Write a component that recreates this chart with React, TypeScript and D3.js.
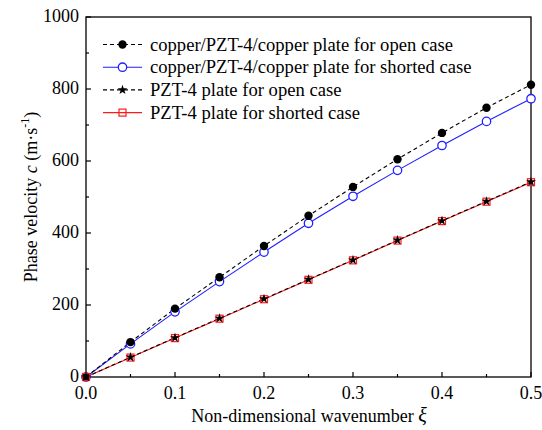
import React, {useEffect, useRef} from 'react';
import * as d3 from 'd3';

const xi = [0, 0.05, 0.1, 0.15, 0.2, 0.25, 0.3, 0.35, 0.4, 0.45, 0.5];
const copperOpen = [0, 97, 190, 277, 364, 448, 528, 605, 678, 748, 812];
const copperShorted = [0, 92, 181, 265, 347, 427, 502, 574, 643, 710, 773];
const pztOpen = [0, 55, 109, 163, 217, 271, 325, 380, 434, 488, 542];
const pztShorted = [0, 54, 108, 162, 216, 270, 324, 379, 433, 487, 541];
const xTicks = [0, 0.1, 0.2, 0.3, 0.4, 0.5];
const yTicks = [0, 200, 400, 600, 800, 1000];

const series = [
  {name: 'copper/PZT-4/copper plate for open case', values: copperOpen, color: '#000', dash: '4,3', marker: 'dot'},
  {name: 'copper/PZT-4/copper plate for shorted case', values: copperShorted, color: '#1f1fff', dash: null, marker: 'circle'},
  {name: 'PZT-4 plate for open case', values: pztOpen, color: '#000', dash: '4,3', marker: 'star'},
  {name: 'PZT-4 plate for shorted case', values: pztShorted, color: '#ff1a1a', dash: null, marker: 'square'},
];

const FONT = "'Liberation Serif', 'Times New Roman', 'DejaVu Serif', serif";

const App = () => {
  const chart = useRef<SVGSVGElement>(null);

  useEffect(() => {
    const svg = d3.select(chart.current);
    svg.selectAll('*').remove();
    const left = 86, right = 531, top = 17, bottom = 377;
    const x = d3.scaleLinear().domain([0, 0.5]).range([left, right]);
    const y = d3.scaleLinear().domain([0, 1000]).range([bottom, top]);

    const txt = (sel: any) => sel.style('font-family', FONT).attr('fill', '#000');

    // frame
    svg.append('rect').attr('x', left).attr('y', top).attr('width', right - left).attr('height', bottom - top)
      .attr('fill', 'none').attr('stroke', '#000').attr('stroke-width', 1.3);

    // ticks pointing inward
    d3.range(0, 0.5001, 0.05).forEach((t, i) => {
      const len = i % 2 === 0 ? 5 : 3;
      svg.append('line').attr('x1', x(t)).attr('x2', x(t)).attr('y1', bottom).attr('y2', bottom - len)
        .attr('stroke', '#000').attr('stroke-width', 1.2);
    });
    d3.range(0, 1001, 100).forEach((t, i) => {
      const len = i % 2 === 0 ? 5 : 3;
      svg.append('line').attr('x1', left).attr('x2', left + len).attr('y1', y(t)).attr('y2', y(t))
        .attr('stroke', '#000').attr('stroke-width', 1.2);
    });
    xTicks.forEach(t => {
      txt(svg.append('text')).attr('x', x(t)).attr('y', 399).attr('text-anchor', 'middle')
        .style('font-size', '18px').text(t.toFixed(1));
    });
    yTicks.forEach(t => {
      txt(svg.append('text')).attr('x', left - 7).attr('y', y(t) + 5).attr('text-anchor', 'end')
        .style('font-size', '18px').text(String(t));
    });

    // axis titles
    const xt = txt(svg.append('text')).attr('x', 309).attr('y', 422).attr('text-anchor', 'middle')
      .style('font-size', '18px');
    xt.append('tspan').text('Non-dimensional wavenumber ');
    xt.append('tspan').style('font-style', 'italic').style('font-size', '20px').text('ξ');

    const yt = txt(svg.append('text')).attr('transform', `translate(37,${(top + bottom) / 2}) rotate(-90)`)
      .attr('text-anchor', 'middle').style('font-size', '18px');
    yt.append('tspan').text('Phase velocity ');
    yt.append('tspan').style('font-style', 'italic').text('c');
    yt.append('tspan').text(' (m·s');
    yt.append('tspan').attr('dy', -8).style('font-size', '12px').text('-1');
    yt.append('tspan').attr('dy', 8).text(')');

    const line = d3.line<number>().x((d, i) => x(xi[i])).y(d => y(d));
    const star = d3.symbol().type(d3.symbolStar).size(30);

    const drawMarker = (g: any, kind: string, cx: number, cy: number, color: string) => {
      if (kind === 'dot') {
        g.append('circle').attr('cx', cx).attr('cy', cy).attr('r', 4.2).attr('fill', '#000');
      } else if (kind === 'circle') {
        g.append('circle').attr('cx', cx).attr('cy', cy).attr('r', 4.2).attr('fill', '#fff')
          .attr('stroke', color).attr('stroke-width', 1.3);
      } else if (kind === 'square') {
        g.append('rect').attr('x', cx - 3.5).attr('y', cy - 3.5).attr('width', 7).attr('height', 7)
          .attr('fill', 'none').attr('stroke', color).attr('stroke-width', 1.2);
      } else {
        g.append('path').attr('d', star).attr('transform', `translate(${cx},${cy})`).attr('fill', '#000');
      }
    };

    const order = [1, 0, 3, 2];
    order.forEach(k => {
      const s = series[k];
      const p = svg.append('path').datum(s.values).attr('d', line).attr('fill', 'none')
        .attr('stroke', s.color).attr('stroke-width', 1.1);
      if (s.dash) p.attr('stroke-dasharray', s.dash);
    });
    order.forEach(k => {
      const s = series[k];
      const g = svg.append('g');
      s.values.forEach((v, i) => drawMarker(g, s.marker, x(xi[i]), y(v), s.color));
    });

    // legend
    series.forEach((s, i) => {
      const ly = 44.5 + i * 22.7;
      const l = svg.append('line').attr('x1', 103).attr('x2', 142).attr('y1', ly).attr('y2', ly)
        .attr('stroke', s.color).attr('stroke-width', 1.1);
      if (s.dash) l.attr('stroke-dasharray', s.dash);
      drawMarker(svg.append('g'), s.marker, 122.5, ly, s.color);
      txt(svg.append('text')).attr('x', 150).attr('y', ly + 6).style('font-size', '18.6px')
        .text(s.name);
    });
  }, []);

  return (
    <svg ref={chart} width={542} height={430} style={{position: 'absolute', left: 0, top: 0, background: '#fff'}} />
  );
};

export default App;
